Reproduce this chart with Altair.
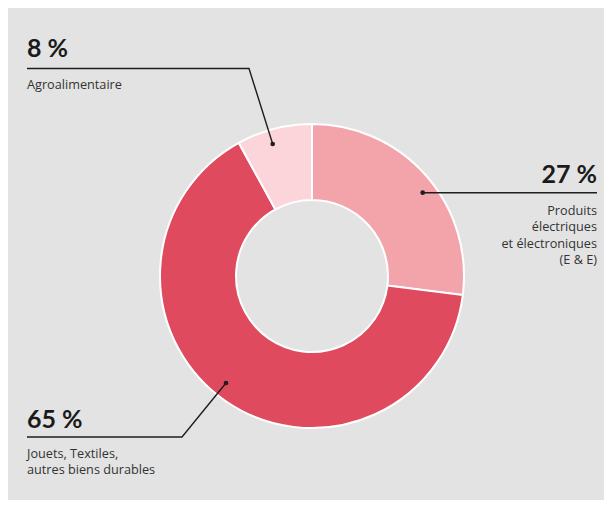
import altair as alt
import pandas as pd

# ---- data ----
categories = ["Produits électriques et électroniques (E & E)",
              "Jouets, Textiles, autres biens durables",
              "Agroalimentaire"]
shares = [27, 65, 8]
colors = ["#f2a4aa", "#e04a5e", "#fbd5d9"]

pct_labels = ["27 %", "65 %", "8 %"]
desc_lines = [["Produits", "électriques", "et électroniques", "(E & E)"],
              ["Jouets, Textiles,", "autres biens durables"],
              ["Agroalimentaire"]]

# ---- layout (chart pixel frame) ----
W, H = 596, 492
CX, CY = 304, 268
R_OUT, R_IN = 152, 76

# leader lines: dot -> elbow -> end
leaders = [
    [(414.7, 184.7), (589, 184.7)],
    [(218, 375), (174, 429), (19, 429)],
    [(264.7, 136), (241, 60.5), (19, 60.5)],
]
pct_pos = [(589, 175, "right"), (19, 420, "left"), (19, 49, "left")]
desc_pos = [(589, 207, "right", 16.4), (19, 450, "left", 16.4), (19, 81, "left", 16)]

pie = pd.DataFrame({"cat": categories, "share": shares, "order": [0, 1, 2]})

line_rows, dot_rows, pct_rows, desc_rows = [], [], [], []
for i, pts in enumerate(leaders):
    for j, (x, y) in enumerate(pts):
        line_rows.append({"id": i, "k": j, "x": x, "y": y})
    dot_rows.append({"x": pts[0][0], "y": pts[0][1]})
    px, py, al = pct_pos[i]
    pct_rows.append({"x": px, "y": py, "t": pct_labels[i], "align": al})
    dx, dy, al, lh = desc_pos[i]
    for j, t in enumerate(desc_lines[i]):
        desc_rows.append({"x": dx, "y": dy + j * lh, "t": t, "align": al})

xs = alt.Scale(domain=[0, W], range=[0, W])
ys = alt.Scale(domain=[0, H], range=[0, H])

arc = alt.Chart(pie).mark_arc(
    outerRadius=R_OUT, innerRadius=R_IN, stroke="white", strokeWidth=2
).encode(
    theta=alt.Theta("share:Q", stack=True),
    order=alt.Order("order:Q"),
    color=alt.Color("cat:N", scale=alt.Scale(domain=categories, range=colors), legend=None),
    x=alt.value(CX), y=alt.value(CY),
)

lines = alt.Chart(pd.DataFrame(line_rows)).mark_line(
    color="#1e1e1e", strokeWidth=1.4
).encode(
    x=alt.X("x:Q", scale=xs, axis=None),
    y=alt.Y("y:Q", scale=ys, axis=None),
    detail="id:N",
    order="k:Q",
)

dots = alt.Chart(pd.DataFrame(dot_rows)).mark_point(
    filled=True, color="#1e1e1e", size=22, opacity=1
).encode(x=alt.X("x:Q", scale=xs, axis=None), y=alt.Y("y:Q", scale=ys, axis=None))

def text_layer(rows, align, **kw):
    df = pd.DataFrame([r for r in rows if r["align"] == align])
    return alt.Chart(df).mark_text(align=align, baseline="alphabetic", **kw).encode(
        x=alt.X("x:Q", scale=xs, axis=None),
        y=alt.Y("y:Q", scale=ys, axis=None),
        text="t:N",
    )

pct_kw = dict(font="Lato", fontSize=25, fontWeight="bold", color="#1a1a1a")
desc_kw = dict(font="Open Sans", fontSize=12.7, color="#333333")

chart = alt.layer(
    arc, lines, dots,
    text_layer(pct_rows, "left", **pct_kw), text_layer(pct_rows, "right", **pct_kw),
    text_layer(desc_rows, "left", **desc_kw), text_layer(desc_rows, "right", **desc_kw),
).properties(
    width=W, height=H, background="#e3e3e3", padding=0,
    autosize=alt.AutoSizeParams(type="none"),
).configure_view(stroke=None)

chart.save("out.html", embed_options={"renderer": "svg", "actions": False})
